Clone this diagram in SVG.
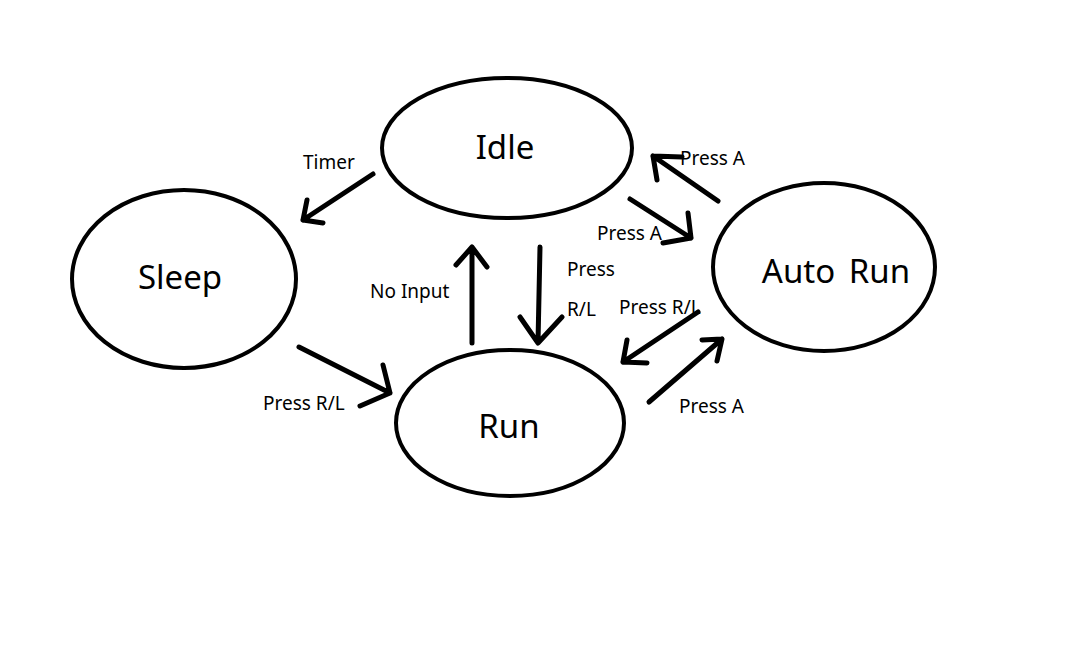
<svg xmlns="http://www.w3.org/2000/svg" width="1079" height="659" viewBox="0 0 1079 659">
<style>
.node ellipse{fill:none;stroke:#000;stroke-width:4}
.node text{font-family:"Noto Sans","DejaVu Sans",sans-serif;font-size:33px;fill:#000;text-anchor:middle}
#connectors path{fill:none;stroke:#000;stroke-width:5;stroke-linecap:round;stroke-linejoin:round}
.lbl{font-family:"Noto Sans","DejaVu Sans",sans-serif;font-size:19px;fill:#000}
</style>
<rect width="1079" height="659" fill="#fff"/>
<g id="idle" class="node"><ellipse cx="507" cy="148" rx="125" ry="70"/><text x="505" y="159">Idle</text></g>
<g id="sleep" class="node"><ellipse cx="184" cy="279" rx="112" ry="89"/><text x="180" y="289">Sleep</text></g>
<g id="autorun" class="node"><ellipse cx="824" cy="267" rx="111" ry="84"/><text x="836" y="283" word-spacing="5">Auto Run</text></g>
<g id="run" class="node"><ellipse cx="510" cy="423" rx="114" ry="73"/><text x="509" y="438">Run</text></g>
<g id="connectors">
<path d="M373,174 L303,220 M307,200 L303,220 L323,223"/>
<path d="M718,201 L653,156 M657,180 L653,156 L682,157"/>
<path d="M630,199 L691,238 M688,213 L691,238 L663,243"/>
<path d="M472,343 L472,247 M456,265 L472,247 L487,267"/>
<path d="M540,247 L538,343 M520,317 L538,343 L562,317"/>
<path d="M299,347 L390,393 M383,365 L390,393 L360,406"/>
<path d="M698,312 L623,362 M627,340 L623,362 L647,363"/>
<path d="M649,402 L722,339 M702,340 L722,339 L717,361"/>
</g>
<g id="labels">
<text class="lbl" x="303" y="169">Timer</text>
<text class="lbl" x="680" y="165">Press A</text>
<text class="lbl" x="597" y="240">Press A</text>
<text class="lbl" x="370" y="298">No Input</text>
<text class="lbl" x="567" y="276">Press</text>
<text class="lbl" x="567" y="316">R/L</text>
<text class="lbl" x="263" y="410">Press R/L</text>
<text class="lbl" x="619" y="314">Press R/L</text>
<text class="lbl" x="679" y="413">Press A</text>
</g>
</svg>
